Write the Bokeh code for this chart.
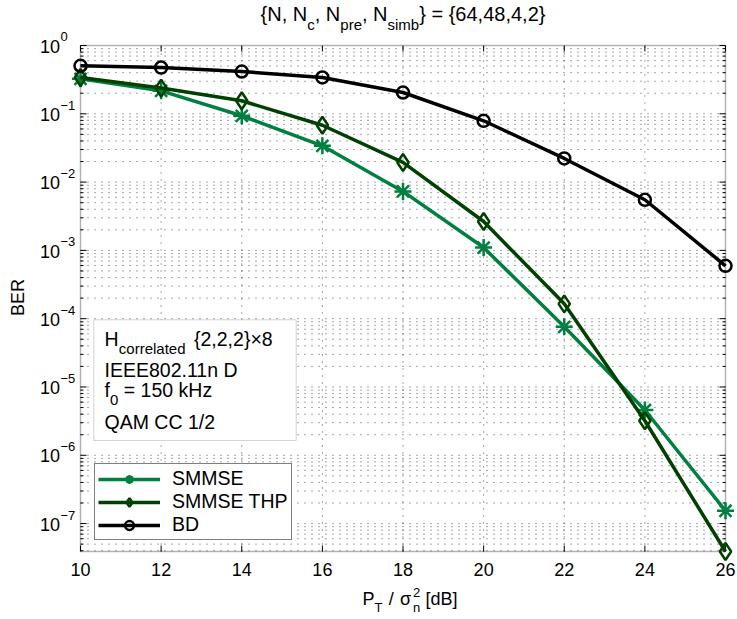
import math
from bokeh.plotting import figure
from bokeh.models import Range1d, Label, BoxAnnotation, Legend, LegendItem
from bokeh.embed import file_html
from bokeh.resources import INLINE

# ---------------- data ----------------
snr_db = [10, 12, 14, 16, 18, 20, 22, 24, 26]
ber_smmse = [0.325, 0.217, 0.0935, 0.034, 7.3e-3, 1.1e-3, 7.6e-5, 4.6e-6, 1.54e-7]
ber_smmse_thp = [0.34, 0.238, 0.155, 0.068, 0.0194, 2.65e-3, 1.65e-4, 3.2e-6, 3.9e-8]
ber_bd = [0.505, 0.476, 0.416, 0.340, 0.205, 0.079, 0.0222, 0.00551, 5.95e-4]

series_names = ["SMMSE", "SMMSE THP", "BD"]
x_ticks = [10, 12, 14, 16, 18, 20, 22, 24, 26]
x_tick_labels = ["10", "12", "14", "16", "18", "20", "22", "24", "26"]
y_tick_values = [1e0, 1e-1, 1e-2, 1e-3, 1e-4, 1e-5, 1e-6, 1e-7]
y_tick_exponents = ["0", "\u22121", "\u22122", "\u22123", "\u22124", "\u22125", "\u22126", "\u22127"]
info_lines = ["IEEE802.11n D", "QAM CC 1/2"]

# ---------------- layout constants ----------------
FONT = "Liberation Sans"
CANVAS_W, CANVAS_H = 737, 619
X_MIN, X_MAX = 10, 26
Y_MIN, Y_MAX = 3.9e-8, 1.0
FRAME_L, FRAME_T, FRAME_W, FRAME_H = 80, 45, 645, 506   # axes box in pixels
MID = 0.35   # distance (in em) from the alphabetic baseline to the text middle
C_SMMSE = "#008040"
C_THP = "#004000"
C_BD = "#000000"
GRID_COLOR = "#222222"

PPU_X = FRAME_W / (X_MAX - X_MIN)
LMIN, LMAX = math.log10(Y_MIN), math.log10(Y_MAX)
PPD_Y = FRAME_H / (LMAX - LMIN)


def px2x(px):
    return X_MIN + (px - FRAME_L) / PPU_X


def py2y(py):
    return 10 ** (LMAX - (py - FRAME_T) / PPD_Y)


# the plotting frame covers the whole canvas; the axes box sits inside it
p = figure(width=CANVAS_W, height=CANVAS_H, output_backend="svg",
           toolbar_location=None, y_axis_type="log",
           x_axis_location=None, y_axis_location=None,
           x_range=Range1d(px2x(0), px2x(CANVAS_W)),
           y_range=Range1d(py2y(CANVAS_H), py2y(0)), title=None,
           min_border=0, min_border_left=0, min_border_right=0,
           min_border_top=0, min_border_bottom=0)
p.background_fill_color = "white"
p.border_fill_color = "white"
p.outline_line_color = None
p.grid.visible = False

minor = [m * 10.0 ** e for e in range(-8, 0) for m in range(2, 10)]
minor = [v for v in minor if Y_MIN < v < Y_MAX]

# dotted grid
p.multi_line([[t, t] for t in x_ticks[1:-1]], [[Y_MIN, Y_MAX]] * (len(x_ticks) - 2),
             line_color=GRID_COLOR, line_dash="1 6", line_alpha=0.8, line_width=1)
hy = y_tick_values[1:] + minor
p.multi_line([[X_MIN, X_MAX]] * len(hy), [[v, v] for v in hy],
             line_color=GRID_COLOR, line_dash="1 6", line_alpha=0.8, line_width=1)

# inside tick marks
p.ray([X_MIN] * len(y_tick_values), y_tick_values, length=6, length_units="screen",
      angle=0, line_color="black", line_width=1)
p.ray([X_MAX] * len(y_tick_values), y_tick_values, length=6, length_units="screen",
      angle=math.pi, line_color="black", line_width=1)
p.ray([X_MIN] * len(minor), minor, length=3, length_units="screen",
      angle=0, line_color="black", line_width=1)
p.ray([X_MAX] * len(minor), minor, length=3, length_units="screen",
      angle=math.pi, line_color="black", line_width=1)
p.ray(x_ticks, [Y_MIN] * len(x_ticks), length=6, length_units="screen",
      angle=math.pi / 2, line_color="black", line_width=1)
p.ray(x_ticks, [Y_MAX] * len(x_ticks), length=6, length_units="screen",
      angle=-math.pi / 2, line_color="black", line_width=1)

# series
l1 = p.line(snr_db, ber_smmse, line_color=C_SMMSE, line_width=3.5)
m1 = p.scatter(snr_db, ber_smmse, marker="asterisk", size=17, line_color=C_SMMSE,
               line_width=2.5)
l2 = p.line(snr_db, ber_smmse_thp, line_color=C_THP, line_width=3.5)
m2 = p.scatter(snr_db, ber_smmse_thp, marker="diamond", size=17, line_color=C_THP,
               fill_color=None, line_width=2.5)
l3 = p.line(snr_db, ber_bd, line_color=C_BD, line_width=3.5)
m3 = p.scatter(snr_db, ber_bd, marker="circle", size=12, line_color=C_BD,
               fill_color=None, line_width=2.5)

# axes box
p.add_layout(BoxAnnotation(left=X_MIN, right=X_MAX, bottom=Y_MIN, top=Y_MAX,
                           fill_color=None, fill_alpha=0, line_color="black",
                           line_width=1.5, level="underlay"))

legend = Legend(items=[LegendItem(label=series_names[0], renderers=[l1, m1]),
                       LegendItem(label=series_names[1], renderers=[l2, m2]),
                       LegendItem(label=series_names[2], renderers=[l3, m3])],
                location=(94, CANVAS_H - 540))
legend.label_text_font = FONT
legend.label_text_font_size = "19.5px"
legend.label_text_color = "black"
legend.glyph_width = 62
legend.glyph_height = 22
legend.label_height = 22
legend.label_standoff = 12
legend.spacing = 0
legend.padding = 3
legend.margin = 0
legend.border_line_color = "black"
legend.border_line_width = 1
legend.background_fill_color = "white"
legend.background_fill_alpha = 1
p.add_layout(legend)

# info box
p.add_layout(BoxAnnotation(left=px2x(93.3), right=px2x(295.7), top=py2y(319.3),
                           bottom=py2y(440), fill_color="white", fill_alpha=1,
                           line_color="#707070", line_width=1))


def add_text(text, px, py, size, align="left", angle=0, baseline_pos=True):
    """py is the alphabetic baseline (or the centre when baseline_pos=False)."""
    cy = py - MID * size if baseline_pos else py
    p.add_layout(Label(x=X_MIN, y=Y_MAX, x_offset=px - FRAME_L,
                       y_offset=-(cy - FRAME_T), text=text, text_font=FONT,
                       text_font_size=f"{size}px", text_align=align,
                       text_baseline="middle", angle=angle, text_color="black"))


# info box text
add_text("H", 104, 345, 19.5)
add_text("correlated", 118.3, 353, 15)
add_text("{2,2,2}\u00d78", 193.5, 345, 19.5)
add_text(info_lines[0], 104, 376.5, 19.5)
add_text("f", 104, 396, 19.5)
add_text("0", 109.5, 405, 15)
add_text("= 150 kHz", 123.3, 396, 19.5)
add_text(info_lines[1], 104, 428, 19.5)

# title with subscripts
W = {' ': 278, ',': 278, '{': 334, '}': 334, '=': 584, 'N': 722, 'c': 500,
     'p': 556, 'r': 333, 'e': 556, 's': 500, 'i': 222, 'm': 833, 'b': 556}
for d in "0123456789":
    W[d] = 556
runs = [("{N, N", 20, 0), ("c", 15, 9), (", N", 20, 0), ("pre", 15, 9),
        (", N", 20, 0), ("simb", 15, 9), ("} = {64,48,4,2}", 20, 0)]
widths = [sum(W[ch] for ch in t) * s / 1000 for t, s, _ in runs]
xpos = (FRAME_L + FRAME_L + FRAME_W) / 2 - sum(widths) / 2
for (t, s, dy), w in zip(runs, widths):
    add_text(t, xpos, 20 + dy, s)
    xpos += w

# x label
add_text("P", 362, 605, 18)
add_text("T", 374, 612, 13)
add_text("/", 388.3, 605, 18)
add_text("\u03c3", 399.5, 605, 18)
add_text("n", 412.5, 612, 13)
add_text("2", 412.5, 597, 13)
add_text("[dB]", 425, 605, 18)

# y label
add_text("BER", 17.5, 297, 18, align="center", angle=math.pi / 2, baseline_pos=False)

# x tick labels (baseline 24 px below the axis)
for t, s in zip(x_ticks, x_tick_labels):
    p.add_layout(Label(x=t, y=Y_MIN, y_offset=-(24 - MID * 18), text=s,
                       text_font=FONT, text_font_size="18px", text_align="center",
                       text_baseline="middle", text_color="black"))

# y tick labels 10^k ("10" baseline 7 px below the tick, exponent 4 px above)
for v, e in zip(y_tick_values, y_tick_exponents):
    p.add_layout(Label(x=X_MIN, y=v, x_offset=-20.5, y_offset=-(7 - MID * 18),
                       text="10", text_font=FONT, text_font_size="18px",
                       text_align="right", text_baseline="middle", text_color="black"))
    p.add_layout(Label(x=X_MIN, y=v, x_offset=-20, y_offset=4 + MID * 13, text=e,
                       text_font=FONT, text_font_size="13px", text_align="left",
                       text_baseline="middle", text_color="black"))

open("out.html", "w").write(file_html(p, INLINE))
